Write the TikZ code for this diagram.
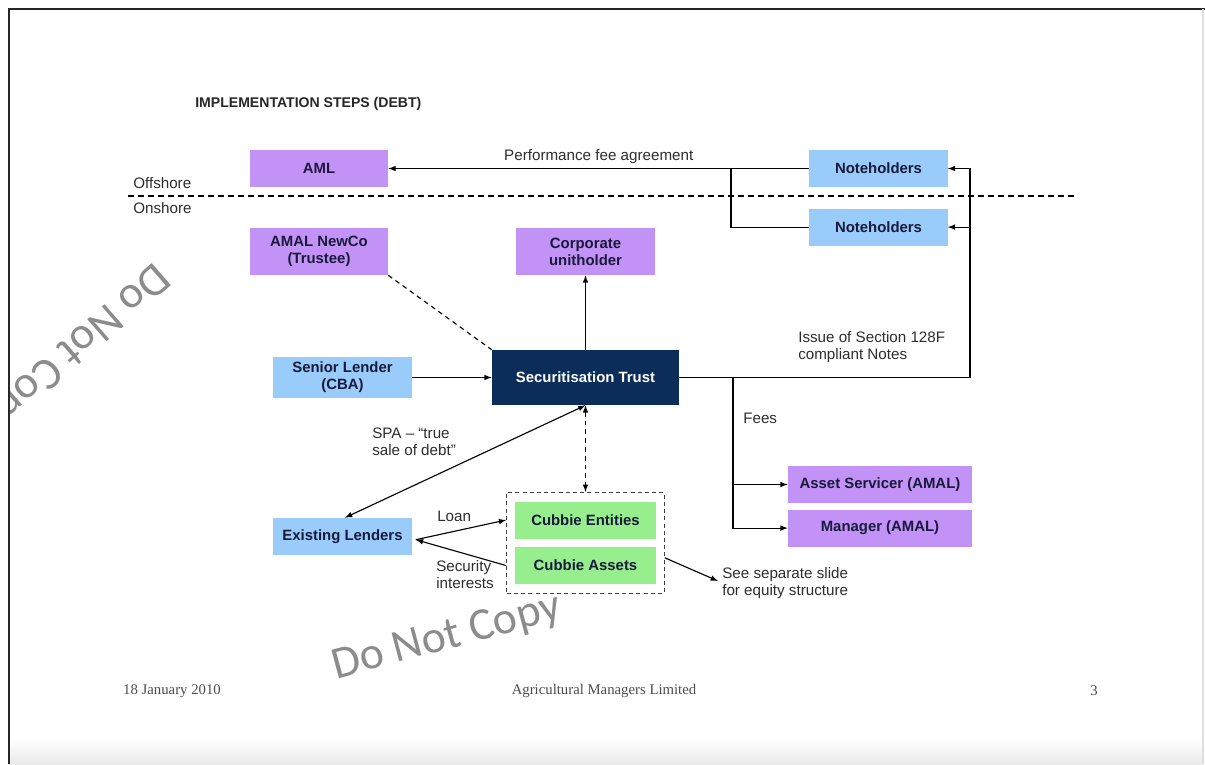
\documentclass[tikz,border=0pt]{standalone}
\usepackage{fontspec}
\setmainfont{Liberation Sans}
\newfontfamily\footfont{Liberation Serif}
\newfontfamily\markfont{Carlito}
\usetikzlibrary{arrows,positioning,fit}
\definecolor{lilac}{RGB}{194,146,246}
\definecolor{sky}{RGB}{153,204,250}
\definecolor{mint}{RGB}{150,238,140}
\definecolor{navy}{RGB}{12,45,90}
\definecolor{boxtext}{RGB}{25,25,60}
\definecolor{notetext}{RGB}{45,45,45}
\tikzset{
  box/.style={rectangle, minimum width=3.45cm, minimum height=0.925cm, inner sep=0pt, align=center, text=boxtext, font=\bfseries\fontsize{10.6}{12}\selectfont},
  amlbox/.style={box, fill=lilac},
  lenderbox/.style={box, fill=sky},
  cubbiebox/.style={box, fill=mint, minimum width=3.525cm},
  connect/.style={-latex, line width=0.8pt},
  note/.style={inner sep=0pt, align=left, text=notetext, font=\fontsize{10.8}{12}\selectfont},
  foot/.style={inner sep=0pt, text=black!70, font=\footfont\fontsize{10.5}{12}\selectfont},
  stamp/.style={inner sep=0pt, text=black!45, font=\markfont\fontsize{32.5}{38}\selectfont}
}

\begin{document}
\begin{tikzpicture}[x=0.025cm, y=-0.025cm]
  \useasboundingbox (0,0) rectangle (1205,764);
  % page frame
  \shade[top color=white, bottom color=black!8] (10,738) rectangle (1202,764);
  \draw[line width=1.8pt, black!85] (9,764) -- (9,9) -- (1205,9);
  \draw[line width=1pt, black!12] (1203,9) -- (1203,764);

  % watermarks
  \begin{scope}
    \clip (10,10) rectangle (1205,764);
    \node[stamp, rotate=15] (stampA) at (447,638) {Do Not Copy};
    \node[stamp, rotate=221] (stampB) at (73,347) {Do Not Copy};
  \end{scope}

  \node[inner sep=0pt, anchor=west, text=black!85, font=\bfseries\fontsize{10}{12}\selectfont] (title) at (195,104) {IMPLEMENTATION STEPS (DEBT)};

  % offshore / onshore split
  \coordinate (splitL) at (128,196);
  \coordinate (splitR) at (1075,196);
  \draw[line width=0.8pt, dash pattern=on 0.15cm off 0.1cm] (splitL) -- (splitR);
  \node[note, anchor=west] (off) at (133,183.5) {Offshore};
  \node[note, anchor=west] (on) at (133,208.5) {Onshore};

  \node[amlbox] (AML) at (319,168.5) {AML};
  \node[lenderbox] (NH1) at (878.5,168.5) {Noteholders};
  \node[lenderbox] (NH2) [below=0.525cm of NH1] {Noteholders};
  \node[amlbox, minimum height=1.175cm] (NewCo) at (319,251.5) {AMAL NewCo\\(Trustee)};
  \node[amlbox, minimum height=1.175cm] (Corp) at (585.5,251.5) {Corporate\\unitholder};
  \node[box, fill=navy, text=white, minimum width=4.675cm, minimum height=1.375cm] (Trust) at (585.5,377.5) {Securitisation Trust};
  \node[lenderbox, minimum height=1.025cm] (Senior) at (342.5,377.5) {Senior Lender\\(CBA)};
  \node[lenderbox] (EL) at (342.5,536.5) {Existing Lenders};
  \node[cubbiebox] (Ent) at (585.5,520) {Cubbie Entities};
  \node[cubbiebox] (Assets) [below=0.2cm of Ent] {Cubbie Assets};
  \node[draw=black!75, line width=0.7pt, dash pattern=on 0.1cm off 0.08cm, fit=(Ent)(Assets), inner xsep=0.2cm, inner ysep=0.22cm] (cubbie) {};
  \node[amlbox, minimum width=4.6cm] (AS) at (880,484.5) {Asset Servicer (AMAL)};
  \node[amlbox, minimum width=4.6cm] (Mgr) [below=0.15cm of AS] {Manager (AMAL)};

  % offshore flows
  \draw[connect] (NH1) -- node[note, above=3pt] {Performance fee agreement} (AML);
  \coordinate (feejoin) at (731,168.5);
  \draw[line width=0.8pt] (NH2.west) -| (feejoin);

  \coordinate (noteturn) at (970,377.5);
  \draw[line width=0.8pt] (Trust.east) -- (noteturn);
  \draw[connect] (noteturn) |- (NH1.east);
  \draw[connect] (noteturn) |- (NH2.east);
  \node[note, anchor=west] (issue) at (798,347) {Issue of Section 128F\\compliant Notes};

  % fees
  \coordinate (feetop) at (733,377.5);
  \draw[connect] (feetop) |- (AS.west);
  \draw[connect] (feetop) |- (Mgr.west);
  \node[note, anchor=west] (fees) at (743,418) {Fees};

  % onshore flows
  \draw[connect] (Trust) -- (Corp);
  \draw[line width=0.8pt, dash pattern=on 0.12cm off 0.1cm] (NewCo.south east) -- (Trust.north west);
  \draw[connect] (Senior) -- (Trust);
  \draw[connect, latex-latex] (Trust.south) -- ([xshift=0.06cm]EL.north);
  \node[note, anchor=west] (spa) at (372,442) {SPA – “true\\sale of debt”};
  \draw[line width=0.8pt, latex-latex, dash pattern=on 0.12cm off 0.1cm] (Trust.south) -- (cubbie.north);

  \coordinate (elport) at ([xshift=0.1cm, yshift=-0.08cm]EL.east);
  \draw[connect] (elport) -- (cubbie.west |- Ent);
  \draw[connect] (cubbie.west |- Assets) -- (elport);
  \node[note, anchor=west] (loan) at (437,516) {Loan};
  \node[note, anchor=west] (secint) at (436,575) {Security\\interests};
  \node[note, anchor=west] (seeslide) at (722,583) {See separate slide\\for equity structure};
  \draw[connect] ([yshift=-0.375cm]cubbie.east) -- ([xshift=-0.1cm, yshift=0.05cm]seeslide.west);

  % footer
  \node[foot] (date) at (172,691) {18 January 2010};
  \node[foot] (company) at (604,691) {Agricultural Managers Limited};
  \node[foot] (page) at (1094,691) {3};
\end{tikzpicture}
\end{document}
